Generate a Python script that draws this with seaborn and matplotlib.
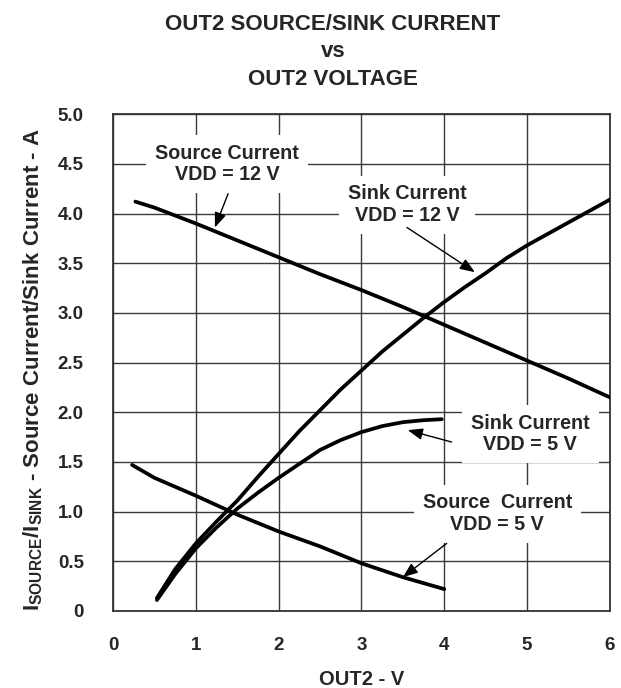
import matplotlib
matplotlib.use("Agg")
import matplotlib.pyplot as plt
import seaborn as sns

# OUT2 voltage (V) vs current (A)
src12_v = [0.27, 0.5, 1.0, 1.5, 2.0, 2.5, 3.0, 3.5, 4.0, 4.5, 5.0, 5.5, 6.0]
src12_i = [4.12, 4.06, 3.90, 3.73, 3.56, 3.39, 3.23, 3.06, 2.88, 2.70, 2.52, 2.34, 2.15]

sink12_v = [0.53, 0.75, 1.0, 1.25, 1.5, 1.75, 2.0, 2.25, 2.5, 2.75, 3.0, 3.25,
            3.5, 3.75, 4.0, 4.25, 4.5, 4.75, 5.0, 5.5, 6.0]
sink12_i = [0.13, 0.42, 0.68, 0.90, 1.11, 1.35, 1.58, 1.81, 2.02, 2.23, 2.42, 2.61,
            2.78, 2.95, 3.11, 3.26, 3.40, 3.55, 3.68, 3.91, 4.14]

sink5_v = [0.53, 0.75, 1.0, 1.25, 1.5, 1.75, 2.0, 2.25, 2.5, 2.75, 3.0, 3.25, 3.5, 3.75, 3.97]
sink5_i = [0.11, 0.37, 0.63, 0.84, 1.03, 1.19, 1.34, 1.48, 1.62, 1.72, 1.80, 1.86, 1.90, 1.92, 1.93]

src5_v = [0.23, 0.5, 1.0, 1.5, 2.0, 2.5, 3.0, 3.5, 4.0]
src5_i = [1.47, 1.34, 1.16, 0.97, 0.80, 0.65, 0.48, 0.34, 0.22]

x_ticks = [0, 1, 2, 3, 4, 5, 6]
y_ticks = [0, 0.5, 1.0, 1.5, 2.0, 2.5, 3.0, 3.5, 4.0, 4.5, 5.0]
y_tick_labels = ["0", "0.5", "1.0", "1.5", "2.0", "2.5", "3.0", "3.5", "4.0", "4.5", "5.0"]

sns.set_style("white")
plt.rcParams['font.family'] = ['Liberation Sans', 'DejaVu Sans']
plt.rcParams['font.weight'] = 'bold'
plt.rcParams['mathtext.fontset'] = 'custom'
plt.rcParams['mathtext.rm'] = 'Liberation Sans:bold'
plt.rcParams['mathtext.bf'] = 'Liberation Sans:bold'

fig = plt.figure(figsize=(6.21, 6.88), dpi=100)
ax = fig.add_axes([0.182, 0.112, 0.8, 0.722])

for xs, ys in [(src12_v, src12_i), (sink12_v, sink12_i),
               (sink5_v, sink5_i), (src5_v, src5_i)]:
    sns.lineplot(x=xs, y=ys, ax=ax, color='black', linewidth=2.7,
                 zorder=5)

ax.set_xlim(0, 6)
ax.set_ylim(0, 5)
ax.set_xticks(x_ticks)
ax.set_yticks(y_ticks)
ax.set_yticklabels(y_tick_labels)
ax.grid(True, color='#3a3a3a', linewidth=1.0)
for s in ax.spines.values():
    s.set_color('#333333')
    s.set_linewidth(1.3)
ax.tick_params(axis='both', length=0, labelsize=13.5)
ax.tick_params(axis='y', pad=21)
ax.tick_params(axis='x', pad=19)
for lab in ax.get_xticklabels() + ax.get_yticklabels():
    lab.set_fontweight('bold')

ax.set_xlabel("OUT2 - V", fontsize=14.5, fontweight='bold', labelpad=11)
ax.set_ylabel(r"I$_{\mathrm{SOURCE}}$/I$_{\mathrm{SINK}}$ - Source Current/Sink Current - A",
              fontsize=16, fontweight='bold')
ax.yaxis.set_label_coords(-0.137, 0.485)

fig.text(0.536, 0.98, "OUT2 SOURCE/SINK CURRENT\nvs\nOUT2 VOLTAGE",
         ha='center', va='top', fontsize=16, fontweight='bold',
         linespacing=1.4)

box = dict(boxstyle='square,pad=0.45', facecolor='white', edgecolor='none')
notes = [
    ("Source Current\nVDD = 12 V", (1.38, 4.50), (1.39, 4.20), (1.23, 3.86)),
    ("Sink Current\nVDD = 12 V", (3.55, 4.09), (3.55, 3.86), (4.37, 3.41)),
    ("Sink Current\nVDD = 5 V", (5.04, 1.78), (4.09, 1.70), (3.56, 1.82)),
    ("Source  Current\nVDD = 5 V", (4.64, 0.98), (4.03, 0.68), (3.50, 0.34)),
]
for txt, pos, tail, head in notes:
    ax.text(pos[0], pos[1], txt, ha='center', va='center', fontsize=14.2,
            fontweight='bold', bbox=box, zorder=6, linespacing=1.15)
    ax.annotate("", xy=head, xytext=tail, zorder=7,
                arrowprops=dict(arrowstyle='-|>,head_length=0.9,head_width=0.35',
                                color='black', lw=1.0, shrinkA=0, shrinkB=0))

fig.savefig("out.png", dpi=100)
